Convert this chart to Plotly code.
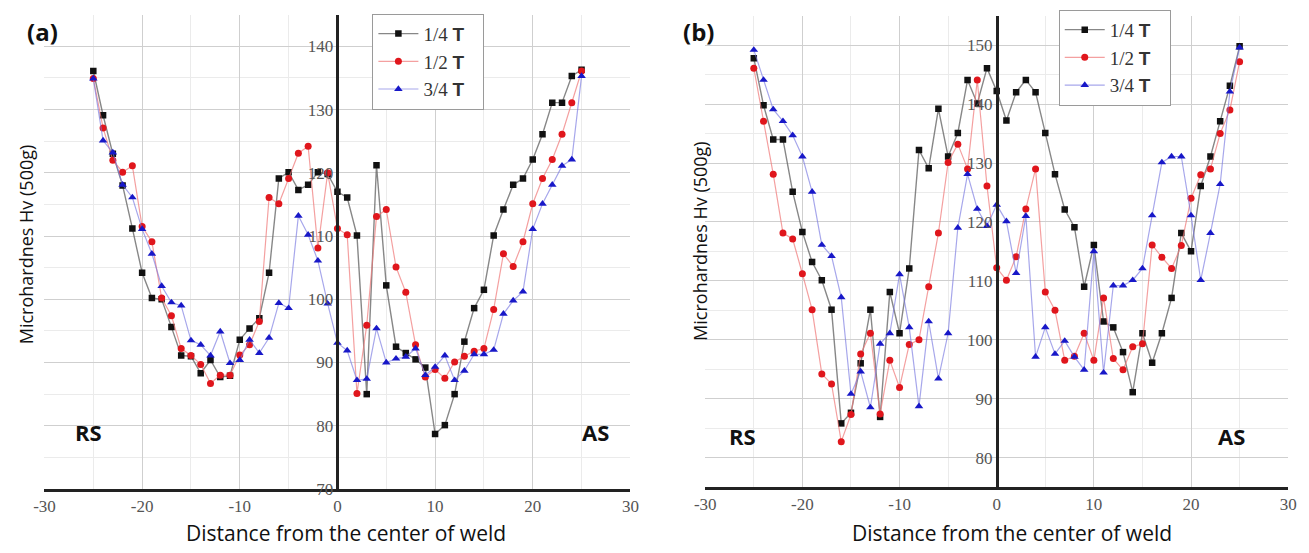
import plotly.graph_objects as go

# Distance from the weld centre (mm), shared by every profile
distance = list(range(-25, 26))

# (a) microhardness profiles
a_quarter = [136.1, 129.1, 123.0, 118.0, 111.2, 104.2, 100.2, 100.0, 95.6, 91.1,
             91.0, 88.3, 90.4, 87.7, 87.9, 93.6, 95.4, 97.0, 104.2, 119.1,
             120.1, 117.3, 118.1, 120.1, 119.8, 117.0, 116.1, 110.1, 85.0, 121.2,
             102.2, 92.5, 91.5, 90.5, 89.2, 78.7, 80.1, 85.0, 93.3, 98.6,
             101.5, 110.1, 114.2, 118.1, 119.1, 122.1, 126.1, 131.1, 131.1, 135.3,
             136.3]
a_half = [134.9, 127.1, 122.0, 120.1, 121.1, 111.5, 109.1, 100.2, 97.4, 92.2,
          91.1, 89.7, 86.7, 88.0, 88.0, 91.2, 92.8, 96.5, 116.1, 115.1,
          119.1, 123.1, 124.2, 108.1, 120.0, 111.2, 110.2, 85.1, 95.9, 113.1,
          114.2, 105.1, 101.1, 92.8, 87.7, 88.9, 87.5, 90.1, 91.0, 91.8,
          92.2, 98.4, 107.2, 105.2, 109.1, 115.1, 119.1, 122.1, 126.1, 131.1,
          136.1]
a_three_quarter = [134.9, 125.1, 123.2, 118.1, 116.1, 111.1, 107.2, 102.1, 99.5, 99.0,
                   93.5, 92.8, 91.1, 94.9, 89.9, 90.4, 93.6, 91.5, 93.9, 99.4,
                   98.6, 113.2, 110.2, 106.1, 99.3, 93.1, 91.9, 87.2, 87.4, 95.4,
                   90.0, 90.6, 90.9, 92.2, 88.0, 89.3, 91.1, 87.2, 88.7, 91.3,
                   91.3, 92.0, 97.7, 99.8, 101.2, 111.1, 115.1, 118.1, 121.1, 122.1,
                   135.3]

# (b) microhardness profiles
b_quarter = [147.8, 139.8, 134.0, 134.0, 125.1, 118.3, 113.2, 110.1, 105.1, 85.8,
             87.6, 96.0, 105.1, 86.9, 108.1, 101.1, 112.1, 132.2, 129.1, 139.2,
             131.1, 135.1, 144.1, 140.1, 146.1, 142.2, 137.2, 142.0, 144.1, 142.0,
             135.1, 128.1, 122.1, 119.1, 109.0, 116.1, 103.1, 102.1, 97.9, 91.1,
             101.1, 96.1, 101.1, 107.1, 118.1, 115.0, 126.1, 131.1, 137.1, 143.1,
             149.8]
b_half = [146.1, 137.1, 128.1, 118.1, 117.1, 111.2, 105.1, 94.2, 92.5, 82.7,
          87.3, 97.6, 101.1, 87.4, 96.5, 91.9, 99.2, 100.0, 109.0, 118.1,
          130.1, 133.2, 129.0, 144.1, 126.1, 112.2, 110.1, 114.1, 122.2, 129.0,
          108.1, 105.0, 96.5, 97.2, 101.1, 96.5, 107.1, 96.8, 94.9, 98.8,
          99.3, 116.1, 114.0, 112.1, 116.0, 124.0, 128.0, 129.0, 135.0, 139.0,
          147.2]
b_three_quarter = [149.2, 144.1, 139.1, 137.1, 134.7, 131.1, 125.1, 116.1, 114.2, 107.2,
                   90.8, 94.6, 88.5, 99.3, 101.1, 111.1, 102.1, 88.7, 103.1, 93.4,
                   101.1, 119.0, 128.1, 122.2, 119.3, 122.9, 120.1, 111.3, 121.0, 97.1,
                   102.1, 97.6, 99.8, 97.1, 94.9, 115.0, 94.4, 109.2, 109.2, 110.1,
                   112.1, 121.1, 130.1, 131.1, 131.1, 121.1, 110.1, 118.1, 126.4, 142.1,
                   149.6]

series_names = ["1/4", "1/2", "3/4"]
x_ticks = [-30, -20, -10, 0, 10, 20, 30]
a_y_ticks = [70, 80, 90, 100, 110, 120, 130, 140]
b_y_ticks = [80, 90, 100, 110, 120, 130, 140, 150]

W, H = 1309, 553
SERIF = "Liberation Serif, Times New Roman, serif"
SANS = "Open Sans, Noto Sans, sans-serif"

styles = [
    dict(line=dict(color="rgba(95,95,95,0.75)", width=1.4),
         marker=dict(symbol="square", size=6.5, color="#111111")),
    dict(line=dict(color="rgba(240,120,120,0.7)", width=1.2),
         marker=dict(symbol="circle", size=7, color="#e0161c")),
    dict(line=dict(color="rgba(120,120,225,0.65)", width=1.2),
         marker=dict(symbol="triangle-up", size=7.5, color="#1818c8")),
]

fig = go.Figure()

panels = [
    ("x", "y", "legend", [a_quarter, a_half, a_three_quarter]),
    ("x2", "y2", "legend2", [b_quarter, b_half, b_three_quarter]),
]
for xa, ya, lg, data in panels:
    for name, vals, st in zip(series_names, data, styles):
        fig.add_trace(go.Scatter(
            x=distance, y=vals, mode="lines+markers",
            name=name + " <span style='font-family:Liberation Sans, Arial, sans-serif'><b>T</b></span>&nbsp;&nbsp;&nbsp;",
            xaxis=xa, yaxis=ya, legend=lg, line=st["line"], marker=st["marker"],
        ))

def px_x(p):
    return p / W

def px_y(p):
    return 1 - p / H

grid_major = "#cfcfcf"
grid_minor = "#ebebeb"

def x_axis(domain, anchor):
    return dict(
        domain=domain, range=[-30, 30], anchor=anchor,
        tickvals=x_ticks, ticktext=[str(v) for v in x_ticks],
        showline=True, linecolor="#222222", linewidth=2.5,
        showgrid=True, gridcolor=grid_major, gridwidth=1,
        minor=dict(dtick=5, showgrid=True, gridcolor=grid_minor, gridwidth=1),
        zeroline=False, ticks="",
        tickfont=dict(family=SERIF, size=17, color="#555555"),
    )

def y_axis(domain, rng, ticks, pos):
    return dict(
        domain=domain, range=rng, anchor="free", position=pos,
        tickvals=ticks, showline=True, linecolor="#222222", linewidth=2.5,
        showgrid=True, gridcolor=grid_major, gridwidth=1,
        minor=dict(dtick=5, showgrid=True, gridcolor=grid_minor, gridwidth=1),
        zeroline=False, ticks="",
        tickfont=dict(family=SERIF, size=17, color="#555555"),
    )

xa_dom = [px_x(34), px_x(629)]
xb_dom = [px_x(705), px_x(1297)]
ya_dom = [px_y(498), px_y(15)]
yb_dom = [px_y(496), px_y(16)]

legend_common = dict(
    xanchor="left", yanchor="top", bgcolor="white",
    bordercolor="#9a9a9a", borderwidth=1,
    font=dict(family=SERIF, size=19, color="#333333"),
    itemwidth=40, tracegroupgap=0,
)

fig.update_layout(
    width=W, height=H,
    margin=dict(l=0, r=0, t=0, b=0),
    paper_bgcolor="white", plot_bgcolor="white",
    xaxis=x_axis(xa_dom, "y"),
    xaxis2=x_axis(xb_dom, "y2"),
    yaxis=y_axis(ya_dom, [70, 145], a_y_ticks, (xa_dom[0] + xa_dom[1]) / 2),
    yaxis2=y_axis(yb_dom, [75, 155], b_y_ticks, (xb_dom[0] + xb_dom[1]) / 2),
    showlegend=True,
    legend=dict(x=px_x(367), y=px_y(14), **legend_common),
    legend2=dict(x=px_x(1064), y=px_y(10), **legend_common),
)

ann = []
def text(x, y, s, size, bold=False, angle=0, family=SANS, color="#111111"):
    ann.append(dict(
        x=px_x(x), y=px_y(y), xref="paper", yref="paper", showarrow=False,
        text=("<b>%s</b>" % s) if bold else s, textangle=angle,
        font=dict(family=family, size=size, color=color),
        xanchor="center", yanchor="middle",
    ))

# panel tags
text(32, 32, "(a)", 24, bold=True)
text(698, 32, "(b)", 24, bold=True)
# axis titles
text(340, 543, "Distance from the center of weld", 21)
text(1017, 543, "Distance from the center of weld", 21)
text(16, 249, "Microhardnes Hv (500g)", 18, angle=-90)
text(699, 245, "Microhardnes Hv (500g)", 18, angle=-90)
# side markers
text(79, 440, "RS", 22, bold=True)
text(594, 440, "AS", 22, bold=True)
text(743, 444, "RS", 22, bold=True)
text(1239, 444, "AS", 22, bold=True)

fig.update_layout(annotations=ann)

fig.write_html("out.html")
